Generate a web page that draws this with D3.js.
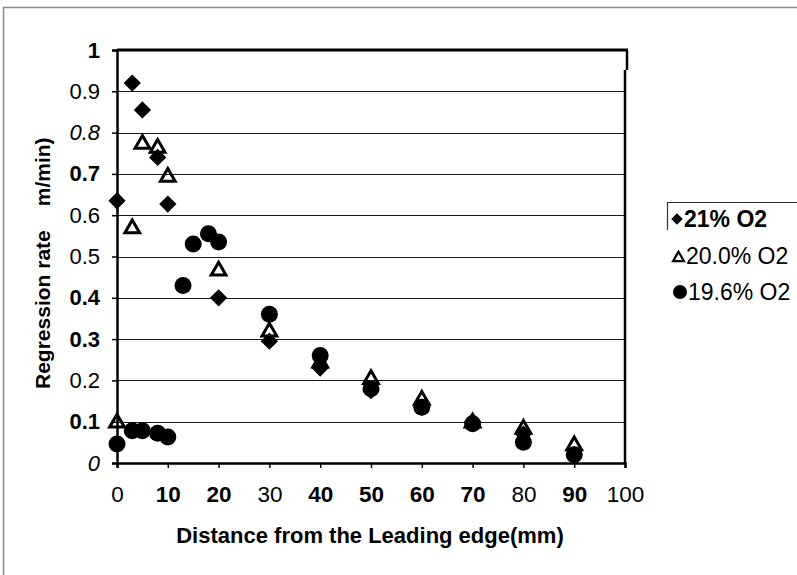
<!DOCTYPE html>
<html>
<head>
<meta charset="utf-8">
<script src="https://cdn.jsdelivr.net/npm/d3@7"></script>
<style>
  html, body { margin: 0; padding: 0; background: #fff; }
  svg { display: block; font-family: "Liberation Sans", Arial, sans-serif; }
</style>
</head>
<body>
<svg id="chart" width="797" height="575"></svg>
<script>
// ---- data ----
const seriesNames = ["21% O2", "20.0% O2", "19.6% O2"];
const distance21 = [0, 3, 5, 8, 10, 20, 30, 40, 50, 60, 70, 80, 90];
const rate21     = [0.635, 0.92, 0.855, 0.74, 0.627, 0.40, 0.295, 0.23, 0.175, 0.135, 0.10, 0.07, 0.02];
const distance20 = [0, 3, 5, 8, 10, 20, 30, 40, 50, 60, 70, 80, 90];
const rate20     = [0.10, 0.57, 0.775, 0.765, 0.695, 0.468, 0.32, 0.245, 0.205, 0.155, 0.10, 0.085, 0.045];
const distance196 = [0, 3, 5, 8, 10, 13, 15, 18, 20, 30, 40, 50, 60, 70, 80, 90];
const rate196     = [0.046, 0.078, 0.078, 0.072, 0.063, 0.43, 0.53, 0.555, 0.535, 0.36, 0.26, 0.18, 0.135, 0.095, 0.05, 0.02];
const xTickValues = [0, 10, 20, 30, 40, 50, 60, 70, 80, 90, 100];
const xTickLabels = ["0", "10", "20", "30", "40", "50", "60", "70", "80", "90", "100"];
const yTickValues = [0, 0.1, 0.2, 0.3, 0.4, 0.5, 0.6, 0.7, 0.8, 0.9, 1];
const yTickLabels = ["0", "0.1", "0.2", "0.3", "0.4", "0.5", "0.6", "0.7", "0.8", "0.9", "1"];
const xTitle = "Distance from the Leading edge(mm)";
const yTitleA = "Regression rate";
const yTitleB = "m/min)";

// ---- layout ----
const svg = d3.select("#chart");
const pL = 117, pR = 625, pT = 50, pB = 463;
const x = d3.scaleLinear().domain([0, 100]).range([pL, pR]);
const y = d3.scaleLinear().domain([0, 1]).range([pB, pT]);

// outer frame
svg.append("line").attr("x1", 3.5).attr("x2", 3.5).attr("y1", 7).attr("y2", 575)
  .attr("stroke", "#8a8a8a").attr("stroke-width", 1.5);
svg.append("line").attr("x1", 3).attr("x2", 797).attr("y1", 7.5).attr("y2", 7.5)
  .attr("stroke", "#8a8a8a").attr("stroke-width", 1.5);

// gridlines
svg.append("g").selectAll("line")
  .data(yTickValues.filter(v => v > 0 && v < 1))
  .join("line")
  .attr("x1", pL).attr("x2", pR)
  .attr("y1", d => Math.round(y(d)) + 0.5).attr("y2", d => Math.round(y(d)) + 0.5)
  .attr("stroke", "#1a1a1a").attr("stroke-width", 1.2);

// plot frame
svg.append("line").attr("x1", pL).attr("x2", pR + 3).attr("y1", pT).attr("y2", pT)
  .attr("stroke", "#000").attr("stroke-width", 3);
svg.append("line").attr("x1", pR + 2).attr("x2", pR + 2).attr("y1", pT).attr("y2", pT + 20)
  .attr("stroke", "#000").attr("stroke-width", 2.5);
svg.append("line").attr("x1", pR).attr("x2", pR).attr("y1", pT + 20).attr("y2", pB)
  .attr("stroke", "#000").attr("stroke-width", 2.5);

// y axis
const yAxis = d3.axisLeft(y).tickValues(yTickValues)
  .tickFormat((d, i) => yTickLabels[i]).tickSize(5).tickPadding(12);
const gy = svg.append("g").attr("transform", `translate(${pL},0)`).call(yAxis);
gy.select(".domain").attr("stroke", "#000").attr("stroke-width", 2.5);
gy.selectAll(".tick line").attr("stroke", "#000").attr("stroke-width", 1.5);
gy.selectAll(".tick text")
  .attr("fill", "#000")
  .style("font-family", "'Liberation Sans', Arial, sans-serif")
  .style("font-size", "22px")
  .style("font-weight", (d, i) => ["1", "0.7", "0.4", "0.3", "0.1"].includes(yTickLabels[i]) ? "bold" : "normal")
  .style("font-style", (d, i) => ["0.8", "0"].includes(yTickLabels[i]) ? "italic" : "normal");

// x axis
const xAxis = d3.axisBottom(x).tickValues(xTickValues)
  .tickFormat((d, i) => xTickLabels[i]).tickSize(5).tickPadding(18);
const gx = svg.append("g").attr("transform", `translate(0,${pB})`).call(xAxis);
gx.select(".domain").attr("stroke", "#000").attr("stroke-width", 2.5);
gx.selectAll(".tick line").attr("stroke", "#000").attr("stroke-width", 1.5);
gx.selectAll(".tick text")
  .attr("fill", "#000")
  .style("font-family", "'Liberation Sans', Arial, sans-serif")
  .style("font-size", "22.5px")
  .style("font-weight", (d, i) => ["0", "30", "80", "100"].includes(xTickLabels[i]) ? "normal" : "bold");

// axis titles
svg.append("text").attr("x", 370).attr("y", 543).attr("text-anchor", "middle")
  .style("font-size", "22px").style("font-weight", "bold").text(xTitle);

const yt = svg.append("text")
  .attr("transform", "translate(50,389) rotate(-90)")
  .style("font-size", "21px").style("font-weight", "bold");
yt.append("tspan").text(yTitleA);
yt.append("tspan").attr("dx", 24).text(yTitleB);

// ---- markers ----
const diamond = d3.symbol().type(d3.symbolDiamond2);
const tri = d3.symbol().type(d3.symbolTriangle2);

const s21 = distance21.map((d, i) => ({ x: d, y: rate21[i] }));
const s20 = distance20.map((d, i) => ({ x: d, y: rate20[i] }));
const s196 = distance196.map((d, i) => ({ x: d, y: rate196[i] }));

svg.append("g").selectAll("path").data(s21).join("path")
  .attr("d", diamond.size(190)())
  .attr("transform", d => `translate(${x(d.x)},${y(d.y)})`)
  .attr("fill", "#000");

svg.append("g").selectAll("path").data(s20).join("path")
  .attr("d", tri.size(155)())
  .attr("transform", d => `translate(${x(d.x)},${y(d.y) + 1})`)
  .attr("fill", "none").attr("stroke", "#000").attr("stroke-width", 3)
  .attr("stroke-linejoin", "miter");

svg.append("g").selectAll("circle").data(s196).join("circle")
  .attr("cx", d => x(d.x)).attr("cy", d => y(d.y)).attr("r", 8.5)
  .attr("fill", "#000");

// ---- legend ----
const lg = svg.append("g");
lg.append("line").attr("x1", 667).attr("x2", 797).attr("y1", 202.5).attr("y2", 202.5)
  .attr("stroke", "#333").attr("stroke-width", 1.2);
lg.append("line").attr("x1", 667.5).attr("x2", 667.5).attr("y1", 202).attr("y2", 230)
  .attr("stroke", "#333").attr("stroke-width", 1.2);

lg.append("path").attr("d", diamond.size(85)()).attr("transform", "translate(677,219)").attr("fill", "#000");
lg.append("text").attr("x", 684).attr("y", 227).style("font-size", "23px").style("font-weight", "bold").text(seriesNames[0]);

lg.append("path").attr("d", tri.size(85)()).attr("transform", "translate(678.5,258)")
  .attr("fill", "none").attr("stroke", "#000").attr("stroke-width", 2.2);
lg.append("text").attr("x", 686).attr("y", 264).style("font-size", "23px").text(seriesNames[1]);

lg.append("circle").attr("cx", 680).attr("cy", 292).attr("r", 7).attr("fill", "#000");
lg.append("text").attr("x", 688).attr("y", 300).style("font-size", "23px").text(seriesNames[2]);
</script>
</body>
</html>
